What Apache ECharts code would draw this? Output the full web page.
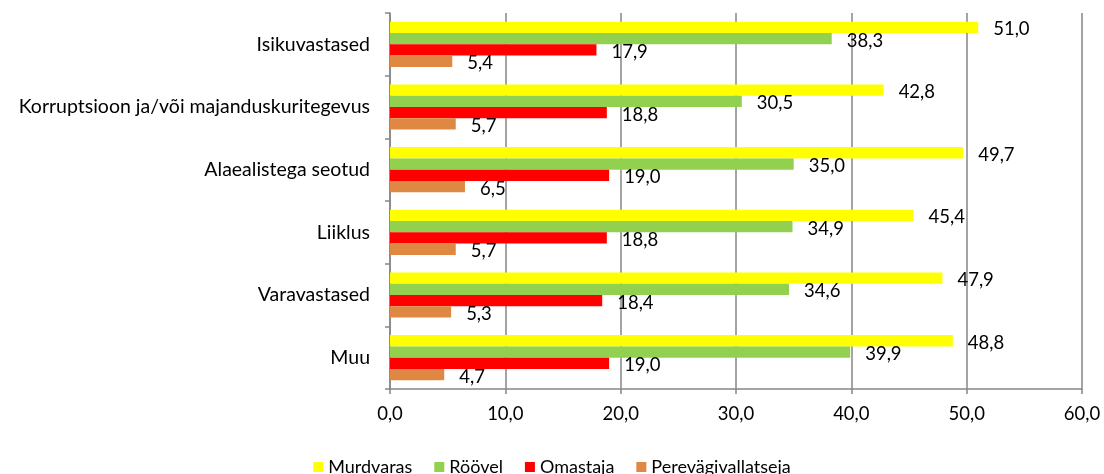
<!DOCTYPE html>
<html>
<head>
<meta charset="utf-8">
<script src="https://cdn.jsdelivr.net/npm/echarts@6/dist/echarts.min.js"></script>
<style>
  html, body { margin: 0; padding: 0; background: #fff; }
  #chart { width: 1104px; height: 474px; }
</style>
</head>
<body>
<div id="chart"></div>
<script>
const categories = ['Isikuvastased', 'Korruptsioon ja/või majanduskuritegevus', 'Alaealistega seotud', 'Liiklus', 'Varavastased', 'Muu']
const seriesNames = ['Murdvaras', 'Röövel', 'Omastaja', 'Perevägivallatseja']
const murdvaras = [51.0, 42.8, 49.7, 45.4, 47.9, 48.8]
const roovel = [38.3, 30.5, 35.0, 34.9, 34.6, 39.9]
const omastaja = [17.9, 18.8, 19.0, 18.8, 18.4, 19.0]
const perevagivallatseja = [5.4, 5.7, 6.5, 5.7, 5.3, 4.7]
const colors = ['#FFFF00', '#92D050', '#FF0000', '#DE8844']

const fontFamily = 'Lato'
const fmt = v => v.toFixed(1).replace('.', ',')

const chart = echarts.init(document.getElementById('chart'))

const makeSeries = (name, data, color) => ({
  name: name,
  type: 'bar',
  data: data,
  barGap: '0%',
  barCategoryGap: '28%',
  itemStyle: { color: color },
  label: {
    show: true,
    position: 'right',
    distance: 15,
    offset: [0, 2],
    color: '#000',
    fontFamily: fontFamily,
    fontSize: 18.5,
    formatter: p => fmt(p.value)
  }
})

const option = {
  animation: false,
  grid: { left: 390, right: 22, top: 13, bottom: 85 },
  legend: {
    top: 453,
    left: 'center',
    itemWidth: 10,
    itemHeight: 10,
    itemGap: 22,
    icon: 'rect',
    textStyle: { fontFamily: fontFamily, fontSize: 18, color: '#000' },
    data: seriesNames
  },
  xAxis: {
    type: 'value',
    min: 0,
    max: 60,
    interval: 10,
    axisLine: { show: true, lineStyle: { color: '#868686', width: 1.5 } },
    axisTick: { show: true, length: 5, lineStyle: { color: '#868686', width: 1.5 } },
    splitLine: { show: true, lineStyle: { color: '#868686', width: 1.5 } },
    axisLabel: {
      margin: 16,
      color: '#000',
      fontFamily: fontFamily,
      fontSize: 18.5,
      formatter: v => fmt(v)
    }
  },
  yAxis: {
    type: 'category',
    inverse: true,
    data: categories,
    axisLine: { show: true, lineStyle: { color: '#868686', width: 1.5 } },
    axisTick: { show: true, length: 5, lineStyle: { color: '#868686', width: 1.5 } },
    axisLabel: {
      margin: 20,
      color: '#000',
      fontFamily: fontFamily,
      fontSize: 19.5
    }
  },
  series: [
    makeSeries(seriesNames[0], murdvaras, colors[0]),
    makeSeries(seriesNames[1], roovel, colors[1]),
    makeSeries(seriesNames[2], omastaja, colors[2]),
    makeSeries(seriesNames[3], perevagivallatseja, colors[3])
  ]
}

chart.setOption(option)
</script>
</body>
</html>
